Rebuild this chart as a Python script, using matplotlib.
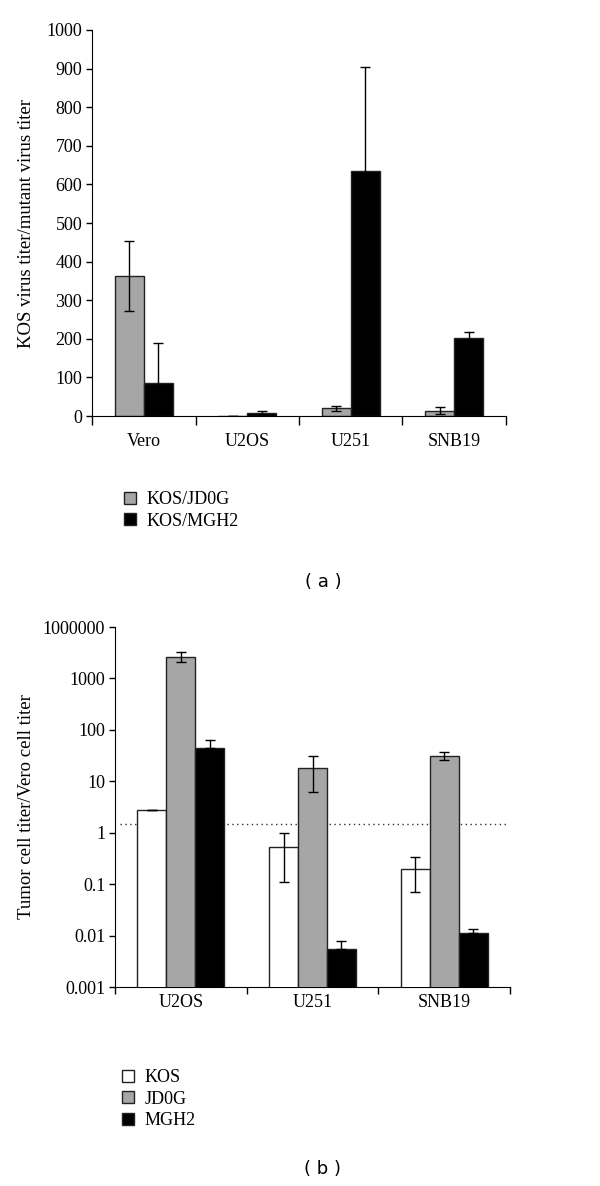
import matplotlib
matplotlib.use('Agg')
import matplotlib.pyplot as plt
from matplotlib.patches import Patch
import numpy as np

plt.rcParams['font.family'] = ['Liberation Serif', 'DejaVu Serif']

# panel (a) data
cells_a = ['Vero', 'U2OS', 'U251', 'SNB19']
jd0g_a = [363, 1, 20, 14]
jd0g_a_err = [90, 0, 7, 9]
mgh2_a = [85, 9, 635, 202]
mgh2_a_err = [105, 4, 270, 16]

# panel (b) data
cells_b = ['U2OS', 'U251', 'SNB19']
kos_b = [2.8, 0.52, 0.2]
kos_b_lo = [2.8, 0.11, 0.07]
kos_b_hi = [2.8, 1.0, 0.34]
jd0g_b = [2640, 17.8, 31]
jd0g_b_lo = [2080, 6.1, 25.5]
jd0g_b_hi = [3300, 31, 37]
mgh2_b = [45, 0.0054, 0.0114]
mgh2_b_hi = [64, 0.0079, 0.0136]
threshold = 1.5
ytick_vals_b = [0.001, 0.01, 0.1, 1, 10, 100, 1000, 10000]
ytick_labels_b = ['0.001', '0.01', '0.1', '1', '10', '100', '1000', '1000000']

GRAY = '#a6a6a6'
EDGE = '#222222'
FS = 13
W, H = 600, 1186

fig = plt.figure(figsize=(W / 100, H / 100), dpi=100)


def box(l, r, b, t):
    return [l / W, 1 - b / H, (r - l) / W, (b - t) / H]


def style_cat_axis(ax, n, tick_len, pad):
    ax.spines['top'].set_visible(False)
    ax.spines['right'].set_visible(False)
    ax.set_xlim(-0.5, n - 0.5)
    ax.set_xticks(np.arange(n + 1) - 0.5)
    ax.set_xticklabels([])
    ax.tick_params(axis='x', which='major', direction='out', length=tick_len, width=1)
    ax.tick_params(axis='x', which='minor', length=0, pad=pad, labelsize=FS)
    ax.tick_params(axis='y', direction='out', length=4, width=1, labelsize=FS, pad=3)


# ---- panel (a)
ax1 = fig.add_axes(box(92, 506, 416, 30))
x = np.arange(len(cells_a))
bw = 0.28
ekw = dict(ecolor='black', elinewidth=1, capsize=3.5, capthick=1)
ax1.bar(x - bw / 2, jd0g_a, bw, color=GRAY, edgecolor=EDGE, linewidth=1,
        yerr=jd0g_a_err, error_kw=ekw)
ax1.bar(x + bw / 2, mgh2_a, bw, color='black', edgecolor=EDGE, linewidth=1,
        yerr=mgh2_a_err, error_kw=ekw)
ax1.set_ylim(0, 1000)
ax1.set_yticks(np.arange(0, 1001, 100))
ax1.set_xticks(x, minor=True)
ax1.set_xticklabels(cells_a, minor=True)
style_cat_axis(ax1, len(cells_a), 6.5, 12)
fig.text(27 / W, 1 - 223 / H, 'KOS virus titer/mutant virus titer',
         rotation=90, ha='center', va='center', fontsize=13.5)

fig.legend(handles=[Patch(facecolor=GRAY, edgecolor=EDGE, label='KOS/JD0G'),
                    Patch(facecolor='black', edgecolor=EDGE, label='KOS/MGH2')],
           loc='upper left', bbox_to_anchor=(124 / W, 1 - 491 / H), frameon=False,
           fontsize=FS, handlelength=0.65, handleheight=0.65, handletextpad=0.6,
           labelspacing=0.25, borderaxespad=0, borderpad=0)
fig.text(323 / W, 1 - 582 / H, '( a )', ha='center', va='center',
         fontsize=13, family='DejaVu Sans')

# ---- panel (b)
ax2 = fig.add_axes(box(115, 510, 987, 627))
ax2.set_yscale('log')
xb = np.arange(len(cells_b))
bw2 = 0.22
kos_err = [np.array(kos_b) - np.array(kos_b_lo), np.array(kos_b_hi) - np.array(kos_b)]
jd_err = [np.array(jd0g_b) - np.array(jd0g_b_lo), np.array(jd0g_b_hi) - np.array(jd0g_b)]
mg_err = [np.zeros(len(mgh2_b)), np.array(mgh2_b_hi) - np.array(mgh2_b)]
ax2.bar(xb - bw2, kos_b, bw2, color='white', edgecolor=EDGE, linewidth=1,
        yerr=kos_err, error_kw=ekw, zorder=3)
ax2.bar(xb, jd0g_b, bw2, color=GRAY, edgecolor=EDGE, linewidth=1,
        yerr=jd_err, error_kw=ekw, zorder=3)
ax2.bar(xb + bw2, mgh2_b, bw2, color='black', edgecolor=EDGE, linewidth=1,
        yerr=mg_err, error_kw=ekw, zorder=3)
ax2.hlines(threshold, -0.46, 2.47, colors='#333333', linestyles=(0, (1, 2.5)),
           linewidth=1, zorder=1)
ax2.set_ylim(1e-3, 1e4)
ax2.set_yticks(ytick_vals_b)
ax2.set_yticklabels(ytick_labels_b)
ax2.yaxis.set_minor_locator(matplotlib.ticker.NullLocator())
ax2.set_xticks(xb, minor=True)
ax2.set_xticklabels(cells_b, minor=True)
style_cat_axis(ax2, len(cells_b), 5, 5)
fig.text(27 / W, 1 - 807 / H, 'Tumor cell titer/Vero cell titer',
         rotation=90, ha='center', va='center', fontsize=13.5)

fig.legend(handles=[Patch(facecolor='white', edgecolor=EDGE, label='KOS'),
                    Patch(facecolor=GRAY, edgecolor=EDGE, label='JD0G'),
                    Patch(facecolor='black', edgecolor=EDGE, label='MGH2')],
           loc='upper left', bbox_to_anchor=(122 / W, 1 - 1069 / H), frameon=False,
           fontsize=FS, handlelength=0.65, handleheight=0.65, handletextpad=0.6,
           labelspacing=0.25, borderaxespad=0, borderpad=0)
fig.text(323 / W, 1 - 1169 / H, '( b )', ha='center', va='center',
         fontsize=13, family='DejaVu Sans')

fig.savefig('out.png', dpi=100)
